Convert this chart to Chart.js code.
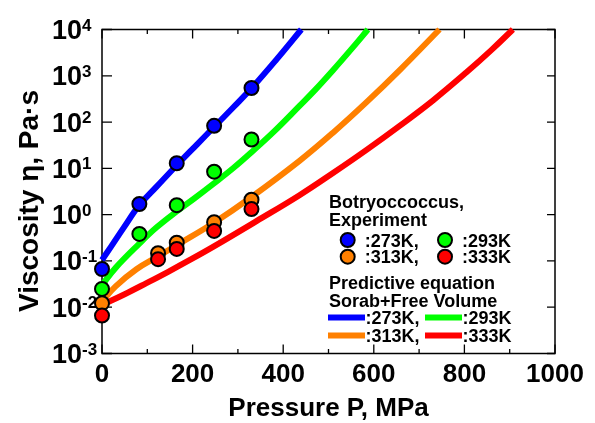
<!DOCTYPE html>
<html><head><meta charset="utf-8">
<script src="https://cdn.jsdelivr.net/npm/chart.js@4.4.1/dist/chart.umd.min.js"></script>
<style>html,body{margin:0;padding:0;background:#fff;}</style>
</head><body>
<canvas id="c" width="595" height="423"></canvas>
<script>
// ---- Experimental data (Botryoccoccus) ----
const expP_273 = [0, 82.5, 165, 247.5, 330];
const expEta_273 = [0.067, 1.70, 12.9, 83, 545];
const expP_293 = [0, 82.5, 165, 247.5, 330];
const expEta_293 = [0.0248, 0.383, 1.60, 8.47, 42];
const expP_313 = [0, 123.75, 165, 247.5, 330];
const expEta_313 = [0.0122, 0.147, 0.248, 0.685, 2.1];
const expP_333 = [0, 123.75, 165, 247.5, 330];
const expEta_333 = [0.0066, 0.109, 0.182, 0.445, 1.32];

// ---- Predictive equation (Sorab + Free Volume) ----
const predP_273 = [0, 20, 48, 82, 120, 165, 210, 248, 290, 330, 385, 440];
const predEta_273 = [0.105, 0.204, 0.525, 1.585, 3.98, 11.7, 33.1, 79.4, 209, 537, 2239, 10000];
const predP_293 = [0, 30, 82, 120, 165, 205, 245, 290, 330, 380, 436, 470, 510, 550, 587];
const predEta_293 = [0.0302, 0.0708, 0.234, 0.525, 1.175, 2.29, 4.57, 10.2, 22.4, 63.1, 224, 490, 1318, 3715, 10000];
const predP_313 = [0, 30, 76, 124, 165, 248, 330, 436, 510, 584, 660, 745];
const predEta_313 = [0.0132, 0.0282, 0.0661, 0.126, 0.219, 0.676, 2.40, 14.5, 58.9, 269, 1413, 10000];
const predP_333 = [0, 50, 98, 145, 194, 248, 341, 436, 510, 584, 660, 731, 804, 860, 907];
const predEta_333 = [0.0112, 0.0191, 0.0331, 0.0575, 0.105, 0.209, 0.724, 2.63, 7.94, 25.1, 87.1, 295, 1175, 3631, 10000];

// ---- Axis ticks ----
const xTickValues = [0, 100, 200, 300, 400, 500, 600, 700, 800, 900, 1000];
const xTickLabels = ['0', '', '200', '', '400', '', '600', '', '800', '', '1000'];
const yTickExponents = [-3, -2, -1, 0, 1, 2, 3, 4];

const xTitle = 'Pressure P, MPa';
const yTitle = 'Viscosity \u03b7, Pa\u00b7s';
const legendTitle1 = ['Botryoccoccus,', 'Experiment'];
const legendTitle2 = ['Predictive equation', 'Sorab+Free Volume'];
const seriesLabels = [':273K,', ':293K', ':313K,', ':333K'];

const colors = ['#0000ff', '#00ff00', '#ff8000', '#ff0000'];

const toXY = (xs, ys) => xs.map((x, i) => ({x: x, y: ys[i]}));

const expSets = [[expP_273, expEta_273], [expP_293, expEta_293], [expP_313, expEta_313], [expP_333, expEta_333]];
const predSets = [[predP_273, predEta_273], [predP_293, predEta_293], [predP_313, predEta_313], [predP_333, predEta_333]];

const datasets = [];
predSets.forEach((s, i) => {
  datasets.push({
    data: toXY(s[0], s[1]), showLine: true, borderColor: colors[i], backgroundColor: colors[i],
    borderWidth: 6, pointRadius: 0, tension: 0.4, order: 20 - i, clip: false
  });
});
expSets.forEach((s, i) => {
  datasets.push({
    data: toXY(s[0], s[1]), showLine: false, borderColor: '#000', backgroundColor: colors[i],
    borderWidth: 2, pointRadius: 7, order: 10 - i, clip: false
  });
});

const FONT = '"Liberation Sans", Arial, Helvetica, sans-serif';

const axesPlugin = {
  id: 'axesPlugin',
  beforeDatasetsDraw(chart) {
    const ctx = chart.ctx, a = chart.chartArea;
    const xs = chart.scales.x, ys = chart.scales.y;
    ctx.save();
    ctx.strokeStyle = '#000';
    ctx.lineWidth = 1.5;
    ctx.strokeRect(a.left, a.top, a.right - a.left, a.bottom - a.top);
    ctx.lineWidth = 1.3;
    // x ticks
    xTickValues.forEach((v, i) => {
      const px = xs.getPixelForValue(v);
      const len = xTickLabels[i] ? 9 : 4.5;
      ctx.beginPath();
      ctx.moveTo(px, a.bottom); ctx.lineTo(px, a.bottom - len);
      ctx.moveTo(px, a.top); ctx.lineTo(px, a.top + len);
      ctx.stroke();
    });
    // y ticks
    yTickExponents.forEach(e => {
      const py = ys.getPixelForValue(Math.pow(10, e));
      ctx.beginPath();
      ctx.moveTo(a.left, py); ctx.lineTo(a.left + 10, py);
      ctx.moveTo(a.right, py); ctx.lineTo(a.right - 8, py);
      ctx.stroke();
    });
    ctx.fillStyle = '#000';
    // x labels
    ctx.font = 'bold 26px ' + FONT;
    ctx.textAlign = 'center';
    ctx.textBaseline = 'alphabetic';
    xTickValues.forEach((v, i) => {
      if (!xTickLabels[i]) return;
      ctx.fillText(xTickLabels[i], xs.getPixelForValue(v), 382);
    });
    // y labels
    yTickExponents.forEach(e => {
      const py = ys.getPixelForValue(Math.pow(10, e));
      ctx.font = 'bold 27px ' + FONT;
      ctx.textAlign = 'right';
      ctx.fillText('10', 82, py + 9.5);
      ctx.font = 'bold 17px ' + FONT;
      ctx.textAlign = 'left';
      ctx.fillText(e < 0 ? '-' + (-e) : String(e), 82, py + 1);
    });
    // titles
    ctx.font = 'bold 26px ' + FONT;
    ctx.textAlign = 'center';
    ctx.fillText(xTitle, (a.left + a.right) / 2, 416);
    ctx.save();
    ctx.translate(38, 201);
    ctx.rotate(-Math.PI / 2);
    ctx.font = 'bold 28px ' + FONT;
    ctx.fillText(yTitle, 0, 0);
    ctx.restore();
    ctx.restore();
  },
  afterDatasetsDraw(chart) {
    const ctx = chart.ctx;
    ctx.save();
    ctx.fillStyle = '#000';
    ctx.font = 'bold 18px ' + FONT;
    ctx.textAlign = 'left';
    ctx.textBaseline = 'alphabetic';
    ctx.fillText(legendTitle1[0], 329, 208);
    ctx.fillText(legendTitle1[1], 329, 226);
    const markerRows = [[347.7, 240], [445, 240], [347.7, 256.7], [445, 256.7]];
    markerRows.forEach((p, i) => {
      ctx.beginPath();
      ctx.arc(p[0], p[1], 7, 0, Math.PI * 2);
      ctx.fillStyle = colors[i];
      ctx.fill();
      ctx.lineWidth = 2;
      ctx.strokeStyle = '#000';
      ctx.stroke();
      ctx.fillStyle = '#000';
      ctx.fillText(seriesLabels[i], p[0] + 17, p[1] + 6.5);
    });
    ctx.fillText(legendTitle2[0], 329, 288.5);
    ctx.fillText(legendTitle2[1], 329, 306.5);
    const lineRows = [[328, 317.5], [425, 317.5], [328, 335.5], [425, 335.5]];
    lineRows.forEach((p, i) => {
      ctx.fillStyle = colors[i];
      ctx.fillRect(p[0], p[1] - 3, 37, 6);
      ctx.fillStyle = '#000';
      ctx.fillText(seriesLabels[i], p[0] + 37.5, p[1] + 6.5);
    });
    ctx.restore();
  }
};

new Chart(document.getElementById('c'), {
  type: 'scatter',
  data: { datasets: datasets },
  options: {
    responsive: false,
    animation: false,
    devicePixelRatio: 1,
    events: [],
    layout: { padding: { left: 102, right: 40, top: 29.5, bottom: 69.5 } },
    plugins: { legend: { display: false }, tooltip: { enabled: false } },
    scales: {
      x: { type: 'linear', min: 0, max: 1000, display: false },
      y: { type: 'logarithmic', min: 1e-3, max: 1e4, display: false }
    }
  },
  plugins: [axesPlugin]
});
</script>
</body></html>
